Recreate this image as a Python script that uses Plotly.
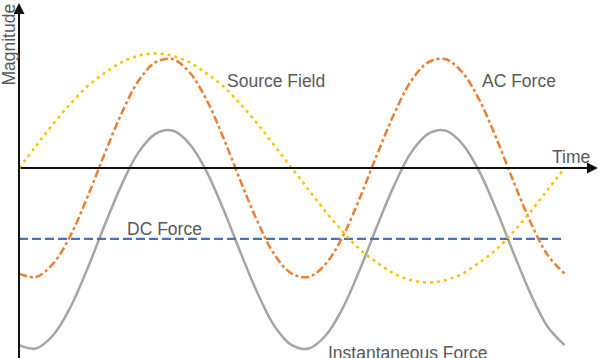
import plotly.graph_objects as go

# Time samples (arbitrary units, half-steps over two AC periods)
time = [i * 0.5 for i in range(33)]

source_field = [0.00, 0.20, 0.40, 0.58, 0.74, 0.86, 0.96, 1.02, 1.04, 1.02, 0.96, 0.86, 0.74, 0.58, 0.40, 0.20,
                0.00, -0.20, -0.40, -0.58, -0.74, -0.86, -0.96, -1.02, -1.04, -1.02, -0.96, -0.86, -0.74, -0.58, -0.40, -0.20, 0.00]

ac_force = [-0.96, -0.99, -0.87, -0.62, -0.27, 0.12, 0.49, 0.79, 0.96, 0.99, 0.87, 0.62, 0.27, -0.12, -0.49, -0.79,
            -0.96, -0.99, -0.87, -0.62, -0.27, 0.12, 0.49, 0.79, 0.96, 0.99, 0.87, 0.62, 0.27, -0.12, -0.49, -0.79, -0.96]

instantaneous_force = [-1.61, -1.64, -1.52, -1.27, -0.92, -0.53, -0.16, 0.14, 0.31, 0.34, 0.22, -0.03, -0.38, -0.77, -1.14, -1.44,
                       -1.61, -1.64, -1.52, -1.27, -0.92, -0.53, -0.16, 0.14, 0.31, 0.34, 0.22, -0.03, -0.38, -0.77, -1.14, -1.44, -1.61]

dc_force = [-0.645] * 33

labels = {
    "Source Field": (7.55, 0.79),
    "AC Force": (14.66, 0.79),
    "DC Force": (4.28, -0.555),
    "Instantaneous Force": (11.4, -1.68),
}

text_color = "#595959"
font_family = "Liberation Sans, Arial, sans-serif"

fig = go.Figure()

fig.add_trace(go.Scatter(x=time, y=instantaneous_force, mode="lines", line=dict(color="#A5A5A5", width=2.5, shape="spline"),
                         hoverinfo="skip"))
fig.add_trace(go.Scatter(x=time, y=dc_force, mode="lines", line=dict(color="#4472C4", width=2.2, dash="9px,4px"),
                         hoverinfo="skip"))
fig.add_trace(go.Scatter(x=time, y=ac_force, mode="lines", line=dict(color="#ED7D31", width=2.5, dash="8px,3px,3px,3px", shape="spline"),
                         hoverinfo="skip"))
fig.add_trace(go.Scatter(x=time, y=source_field, mode="lines", line=dict(color="#FFC000", width=2.5, dash="3px,4px", shape="spline"),
                         hoverinfo="skip"))

# Axes drawn as arrows
fig.add_annotation(x=16.98, y=0, ax=0, ay=0, xref="x", yref="y", axref="x", ayref="y", text="",
                   showarrow=True, arrowhead=2, arrowsize=1.1, arrowwidth=2, arrowcolor="#111111", standoff=0)
fig.add_annotation(x=0, y=1.50, ax=0, ay=-1.75, xref="x", yref="y", axref="x", ayref="y", text="",
                   showarrow=True, arrowhead=2, arrowsize=1.1, arrowwidth=2, arrowcolor="#111111", standoff=0)

for name, (lx, ly) in labels.items():
    fig.add_annotation(x=lx, y=ly, xref="x", yref="y", text=name, showarrow=False,
                       font=dict(size=17.5, color=text_color, family=font_family))

fig.add_annotation(x=16.2, y=0.10, xref="x", yref="y", text="Time", showarrow=False,
                   font=dict(size=17.5, color=text_color, family=font_family))
fig.add_annotation(x=-0.30, y=1.12, xref="x", yref="y", text="Magnitude", showarrow=False, textangle=-90,
                   font=dict(size=17.5, color=text_color, family=font_family))

fig.update_layout(
    width=600, height=358,
    margin=dict(l=0, r=0, t=0, b=0),
    paper_bgcolor="white", plot_bgcolor="white",
    showlegend=False,
    xaxis=dict(range=[-0.557, 17.04], visible=False, fixedrange=True),
    yaxis=dict(range=[-1.727, 1.527], visible=False, fixedrange=True),
)

fig.write_html("out.html", config={"displayModeBar": False},
               post_script="document.body.style.margin='0';document.body.style.overflow='hidden';")
